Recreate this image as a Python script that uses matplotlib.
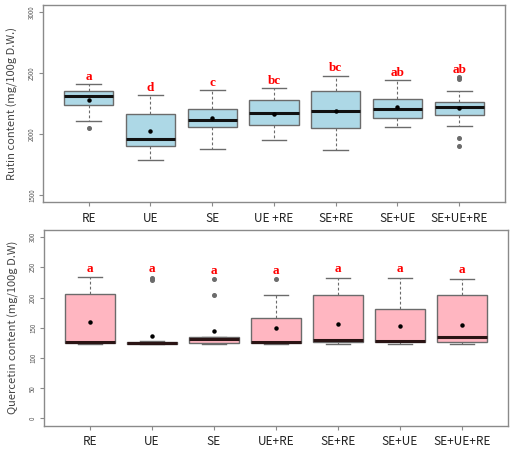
import matplotlib
matplotlib.use("Agg")
import matplotlib.pyplot as plt

groups_top = ['RE', 'UE', 'SE', 'UE +RE', 'SE+RE', 'SE+UE', 'SE+UE+RE']
groups_bot = ['RE', 'UE', 'SE', 'UE+RE', 'SE+RE', 'SE+UE', 'SE+UE+RE']

# Rutin content (mg/100g D.W)
rut_med = [2314, 1956, 2115, 2169, 2185, 2207, 2224]
rut_q1 = [2235, 1904, 2054, 2074, 2049, 2128, 2152]
rut_q3 = [2349, 2164, 2207, 2281, 2349, 2287, 2265]
rut_lo = [2109, 1787, 1880, 1951, 1869, 2057, 2068]
rut_hi = [2407, 2322, 2360, 2374, 2480, 2439, 2352]
rut_mean = [2281, 2025, 2131, 2165, 2188, 2218, 2215]
rut_out = [[2049], [], [], [], [], [], [2470, 2452, 1964, 1898]]
rut_let = ['a', 'd', 'c', 'bc', 'bc', 'ab', 'ab']

# Quercetin content (mg/100g D.W)
que_med = [126, 125, 131, 127, 130, 127.5, 134]
que_q1 = [125, 123.5, 125, 125, 126, 126, 126]
que_q3 = [206, 127, 134, 166, 205, 181, 205]
que_lo = [123, 122.5, 123, 123, 123, 123, 123]
que_hi = [234, 128, 134, 205, 233, 233, 231]
que_mean = [160, 136, 145, 150, 156, 153, 155]
que_out = [[], [229, 233], [205, 230], [230], [], [], []]
que_let = ['a', 'a', 'a', 'a', 'a', 'a', 'a']

plt.rcParams['font.family'] = ['Noto Sans CJK KR', 'DejaVu Sans']

fig = plt.figure(figsize=(5.15, 4.49), dpi=100)
ax1 = fig.add_axes([0.0835, 0.550, 0.897, 0.439])
ax2 = fig.add_axes([0.0855, 0.052, 0.9005, 0.436])


def draw(ax, groups, med, q1, q3, lo, hi, mean, out, letters, face, medcol, ylim, yticks, ylabel, off):
    stats = []
    for i in range(len(groups)):
        stats.append(dict(med=med[i], q1=q1[i], q3=q3[i], whislo=lo[i],
                          whishi=hi[i], mean=mean[i], fliers=out[i]))
    ax.bxp(stats, positions=range(1, 8), widths=0.8, patch_artist=True,
           showmeans=True, capwidths=0.4,
           boxprops=dict(facecolor=face, edgecolor='#6b6b6b', linewidth=1),
           medianprops=dict(color=medcol, linewidth=2.2),
           whiskerprops=dict(color='#6b6b6b', linestyle=(0, (2.5, 2)), linewidth=0.8),
           capprops=dict(color='#6b6b6b', linewidth=1),
           meanprops=dict(marker='o', markerfacecolor='black', markeredgecolor='black',
                          markersize=2.2),
           flierprops=dict(marker='o', markerfacecolor='#6b6b6b', markeredgecolor='#6b6b6b',
                           markersize=2.6))
    for i in range(len(groups)):
        top = max([hi[i]] + out[i])
        ax.text(i + 1, top + off, letters[i], color='red', ha='center', va='center',
                fontsize=9.5, fontweight='bold', family='Liberation Serif')
    ax.set_xlim(0.26, 7.74)
    ax.set_ylim(*ylim)
    ax.set_xticks(range(1, 8))
    ax.set_xticklabels(groups, fontsize=8.5, color='#222222')
    ax.set_yticks(yticks)
    ax.set_yticklabels([str(t) for t in yticks], rotation=90, va='center',
                       fontsize=4.5, color='#555555')
    ax.set_ylabel(ylabel, fontsize=8, color='#444444', labelpad=7)
    for s in ax.spines.values():
        s.set_color('#8a8a8a')
        s.set_linewidth(1)
    ax.tick_params(axis='both', colors='#8a8a8a', length=3, width=0.8)
    ax.tick_params(axis='x', pad=4, labelcolor='#222222')
    ax.tick_params(axis='y', pad=2, labelcolor='#555555')


draw(ax1, groups_top, rut_med, rut_q1, rut_q3, rut_lo, rut_hi, rut_mean, rut_out, rut_let,
     '#add8e6', '#111111', (1440, 3060), [1500, 2000, 2500, 3000],
     'Rutin content (mg/100g D.W.)', 58)
draw(ax2, groups_bot, que_med, que_q1, que_q3, que_lo, que_hi, que_mean, que_out, que_let,
     '#ffb6c1', '#2a1414', (-12, 312), [0, 50, 100, 150, 200, 250, 300],
     'Quercetin content (mg/100g D.W)', 14)

fig.savefig('out.png', dpi=100)
